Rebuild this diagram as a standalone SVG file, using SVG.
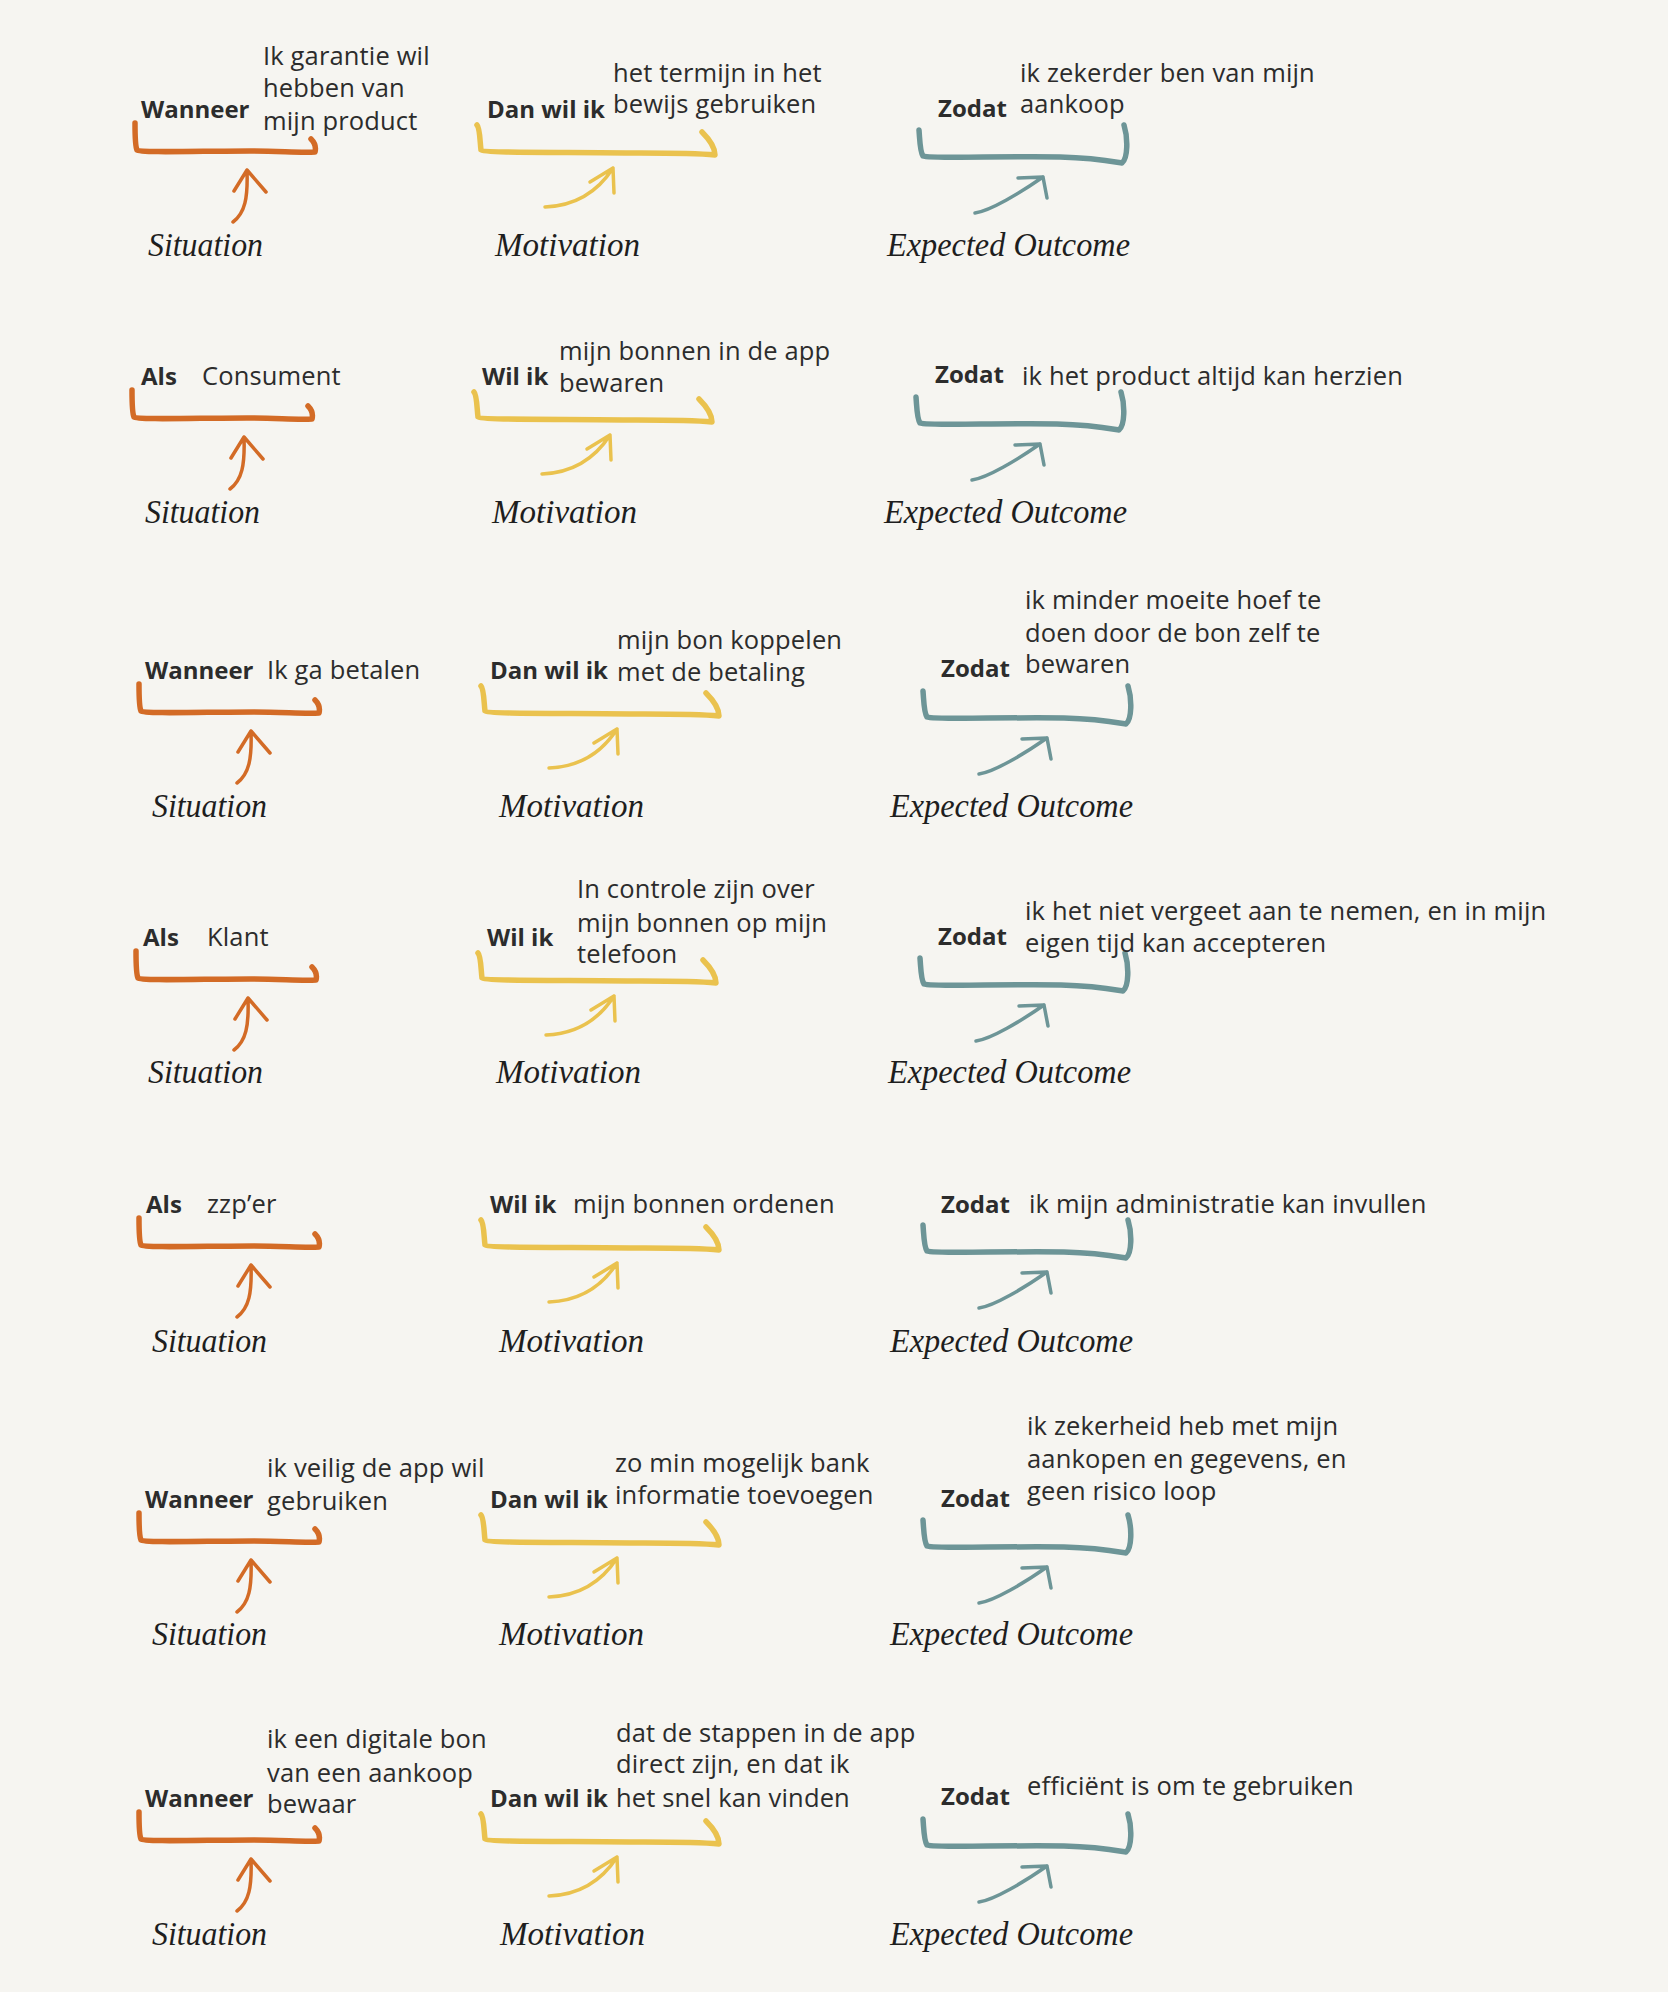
<svg xmlns="http://www.w3.org/2000/svg" xmlns:xlink="http://www.w3.org/1999/xlink" width="1668" height="1992" viewBox="0 0 1668 1992">
<style>
.lbl{font-family:"Open Sans","Noto Sans",sans-serif;font-weight:700;font-size:24px;fill:#2c2c2c}
.txt{font-family:"Open Sans","Noto Sans",sans-serif;font-size:25.5px;letter-spacing:0.15px;fill:#2c2c2c}
.hw{font-family:"Liberation Serif",serif;font-style:italic;font-size:34px;fill:#1e1e1e}
.br{fill:none;stroke-width:5.5;stroke-linecap:round;stroke-linejoin:round}
.ar{fill:none;stroke-width:3.5;stroke-linecap:round;stroke-linejoin:round}
.o{stroke:#d36b26}
.y{stroke:#eac24e}
.t{stroke:#6d9597}
</style>
<defs>
<path id="brO" d="M135,5 C135,17 135,28 137,32 C140,35 200,33 250,33 C280,33 300,35 315,34 C316,30 315,25 311,21"/>
<path id="brY" d="M477,7 C480,10 480,25 481,32 C483,35 560,34 640,35 C680,35 705,36 715,37 C715,30 710,22 702,14"/>
<path id="brT" d="M919,12 C920,25 920,34 923,38 C930,41 1000,38 1060,39 C1095,40 1110,43 1122,45 C1128,40 1128,20 1124,7"/>
<path id="arO" d="M233,104 C245,95 248,80 247,52 M234,73 L247,52 L266,74"/>
<path id="arY" d="M545,89 C570,88 595,78 613,50 M590,64 L613,50 L614,75"/>
<path id="arT" d="M975,95 C990,93 1020,75 1043,59 M1018,60 L1043,59 L1047,80"/>
</defs>
<rect width="1668" height="1992" fill="#f6f5f1"/>

<g id="connectors">
<use xlink:href="#arO" class="ar o" x="0" y="118"/>
<use xlink:href="#arY" class="ar y" x="0" y="118"/>
<use xlink:href="#arT" class="ar t" x="0" y="118"/>
<use xlink:href="#arO" class="ar o" x="-3" y="385"/>
<use xlink:href="#arY" class="ar y" x="-3" y="385"/>
<use xlink:href="#arT" class="ar t" x="-3" y="385"/>
<use xlink:href="#arO" class="ar o" x="4" y="679"/>
<use xlink:href="#arY" class="ar y" x="4" y="679"/>
<use xlink:href="#arT" class="ar t" x="4" y="679"/>
<use xlink:href="#arO" class="ar o" x="1" y="946"/>
<use xlink:href="#arY" class="ar y" x="1" y="946"/>
<use xlink:href="#arT" class="ar t" x="1" y="946"/>
<use xlink:href="#arO" class="ar o" x="4" y="1213"/>
<use xlink:href="#arY" class="ar y" x="4" y="1213"/>
<use xlink:href="#arT" class="ar t" x="4" y="1213"/>
<use xlink:href="#arO" class="ar o" x="4" y="1508"/>
<use xlink:href="#arY" class="ar y" x="4" y="1508"/>
<use xlink:href="#arT" class="ar t" x="4" y="1508"/>
<use xlink:href="#arO" class="ar o" x="4" y="1807"/>
<use xlink:href="#arY" class="ar y" x="4" y="1807"/>
<use xlink:href="#arT" class="ar t" x="4" y="1807"/>
</g>

<!-- Row 1 -->
<g id="r1-situation">
<use xlink:href="#brO" class="br o" x="0" y="118"/>
<text class="lbl" x="141" y="118">Wanneer</text>
<text class="txt" x="263" y="65">Ik garantie wil</text>
<text class="txt" x="263" y="97">hebben van</text>
<text class="txt" x="263" y="130">mijn product</text>
<text class="hw" x="148" y="256" textLength="115" lengthAdjust="spacingAndGlyphs">Situation</text>
</g>
<g id="r1-motivation">
<use xlink:href="#brY" class="br y" x="0" y="118"/>
<text class="lbl" x="487" y="118">Dan wil ik</text>
<text class="txt" x="613" y="82">het termijn in het</text>
<text class="txt" x="613" y="113">bewijs gebruiken</text>
<text class="hw" x="495" y="256" textLength="145" lengthAdjust="spacingAndGlyphs">Motivation</text>
</g>
<g id="r1-outcome">
<use xlink:href="#brT" class="br t" x="0" y="118"/>
<text class="lbl" x="938" y="117">Zodat</text>
<text class="txt" x="1020" y="82">ik zekerder ben van mijn</text>
<text class="txt" x="1020" y="113">aankoop</text>
<text class="hw" x="887" y="256" textLength="243" lengthAdjust="spacingAndGlyphs">Expected Outcome</text>
</g>

<!-- Row 2 -->
<g id="r2-situation">
<use xlink:href="#brO" class="br o" x="-3" y="385"/>
<text class="lbl" x="141" y="385">Als</text>
<text class="txt" x="202" y="385">Consument</text>
<text class="hw" x="145" y="523" textLength="115" lengthAdjust="spacingAndGlyphs">Situation</text>
</g>
<g id="r2-motivation">
<use xlink:href="#brY" class="br y" x="-3" y="385"/>
<text class="lbl" x="482" y="385">Wil ik</text>
<text class="txt" x="559" y="360">mijn bonnen in de app</text>
<text class="txt" x="559" y="392">bewaren</text>
<text class="hw" x="492" y="523" textLength="145" lengthAdjust="spacingAndGlyphs">Motivation</text>
</g>
<g id="r2-outcome">
<use xlink:href="#brT" class="br t" x="-3" y="385"/>
<text class="lbl" x="935" y="383">Zodat</text>
<text class="txt" x="1022" y="385">ik het product altijd kan herzien</text>
<text class="hw" x="884" y="523" textLength="243" lengthAdjust="spacingAndGlyphs">Expected Outcome</text>
</g>

<!-- Row 3 -->
<g id="r3-situation">
<use xlink:href="#brO" class="br o" x="4" y="679"/>
<text class="lbl" x="145" y="679">Wanneer</text>
<text class="txt" x="267" y="679">Ik ga betalen</text>
<text class="hw" x="152" y="817" textLength="115" lengthAdjust="spacingAndGlyphs">Situation</text>
</g>
<g id="r3-motivation">
<use xlink:href="#brY" class="br y" x="4" y="679"/>
<text class="lbl" x="490" y="679">Dan wil ik</text>
<text class="txt" x="617" y="649">mijn bon koppelen</text>
<text class="txt" x="617" y="681">met de betaling</text>
<text class="hw" x="499" y="817" textLength="145" lengthAdjust="spacingAndGlyphs">Motivation</text>
</g>
<g id="r3-outcome">
<use xlink:href="#brT" class="br t" x="4" y="679"/>
<text class="lbl" x="941" y="677">Zodat</text>
<text class="txt" x="1025" y="609">ik minder moeite hoef te</text>
<text class="txt" x="1025" y="642">doen door de bon zelf te</text>
<text class="txt" x="1025" y="673">bewaren</text>
<text class="hw" x="890" y="817" textLength="243" lengthAdjust="spacingAndGlyphs">Expected Outcome</text>
</g>

<!-- Row 4 -->
<g id="r4-situation">
<use xlink:href="#brO" class="br o" x="1" y="946"/>
<text class="lbl" x="143" y="946">Als</text>
<text class="txt" x="207" y="946">Klant</text>
<text class="hw" x="148" y="1083" textLength="115" lengthAdjust="spacingAndGlyphs">Situation</text>
</g>
<g id="r4-motivation">
<use xlink:href="#brY" class="br y" x="1" y="946"/>
<text class="lbl" x="487" y="946">Wil ik</text>
<text class="txt" x="577" y="898">In controle zijn over</text>
<text class="txt" x="577" y="932">mijn bonnen op mijn</text>
<text class="txt" x="577" y="963">telefoon</text>
<text class="hw" x="496" y="1083" textLength="145" lengthAdjust="spacingAndGlyphs">Motivation</text>
</g>
<g id="r4-outcome">
<use xlink:href="#brT" class="br t" x="1" y="946"/>
<text class="lbl" x="938" y="945">Zodat</text>
<text class="txt" x="1025" y="920">ik het niet vergeet aan te nemen, en in mijn</text>
<text class="txt" x="1025" y="952">eigen tijd kan accepteren</text>
<text class="hw" x="888" y="1083" textLength="243" lengthAdjust="spacingAndGlyphs">Expected Outcome</text>
</g>

<!-- Row 5 -->
<g id="r5-situation">
<use xlink:href="#brO" class="br o" x="4" y="1213"/>
<text class="lbl" x="146" y="1213">Als</text>
<text class="txt" x="207" y="1213">zzp’er</text>
<text class="hw" x="152" y="1352" textLength="115" lengthAdjust="spacingAndGlyphs">Situation</text>
</g>
<g id="r5-motivation">
<use xlink:href="#brY" class="br y" x="4" y="1213"/>
<text class="lbl" x="490" y="1213">Wil ik</text>
<text class="txt" x="573" y="1213">mijn bonnen ordenen</text>
<text class="hw" x="499" y="1352" textLength="145" lengthAdjust="spacingAndGlyphs">Motivation</text>
</g>
<g id="r5-outcome">
<use xlink:href="#brT" class="br t" x="4" y="1213"/>
<text class="lbl" x="941" y="1213">Zodat</text>
<text class="txt" x="1029" y="1213">ik mijn administratie kan invullen</text>
<text class="hw" x="890" y="1352" textLength="243" lengthAdjust="spacingAndGlyphs">Expected Outcome</text>
</g>

<!-- Row 6 -->
<g id="r6-situation">
<use xlink:href="#brO" class="br o" x="4" y="1508"/>
<text class="lbl" x="145" y="1508">Wanneer</text>
<text class="txt" x="267" y="1477">ik veilig de app wil</text>
<text class="txt" x="267" y="1510">gebruiken</text>
<text class="hw" x="152" y="1645" textLength="115" lengthAdjust="spacingAndGlyphs">Situation</text>
</g>
<g id="r6-motivation">
<use xlink:href="#brY" class="br y" x="4" y="1508"/>
<text class="lbl" x="490" y="1508">Dan wil ik</text>
<text class="txt" x="615" y="1472">zo min mogelijk bank</text>
<text class="txt" x="615" y="1504">informatie toevoegen</text>
<text class="hw" x="499" y="1645" textLength="145" lengthAdjust="spacingAndGlyphs">Motivation</text>
</g>
<g id="r6-outcome">
<use xlink:href="#brT" class="br t" x="4" y="1508"/>
<text class="lbl" x="941" y="1507">Zodat</text>
<text class="txt" x="1027" y="1435">ik zekerheid heb met mijn</text>
<text class="txt" x="1027" y="1468">aankopen en gegevens, en</text>
<text class="txt" x="1027" y="1500">geen risico loop</text>
<text class="hw" x="890" y="1645" textLength="243" lengthAdjust="spacingAndGlyphs">Expected Outcome</text>
</g>

<!-- Row 7 -->
<g id="r7-situation">
<use xlink:href="#brO" class="br o" x="4" y="1807"/>
<text class="lbl" x="145" y="1807">Wanneer</text>
<text class="txt" x="267" y="1748">ik een digitale bon</text>
<text class="txt" x="267" y="1782">van een aankoop</text>
<text class="txt" x="267" y="1813">bewaar</text>
<text class="hw" x="152" y="1945" textLength="115" lengthAdjust="spacingAndGlyphs">Situation</text>
</g>
<g id="r7-motivation">
<use xlink:href="#brY" class="br y" x="4" y="1807"/>
<text class="lbl" x="490" y="1807">Dan wil ik</text>
<text class="txt" x="616" y="1742">dat de stappen in de app</text>
<text class="txt" x="616" y="1773">direct zijn, en dat ik</text>
<text class="txt" x="616" y="1807">het snel kan vinden</text>
<text class="hw" x="500" y="1945" textLength="145" lengthAdjust="spacingAndGlyphs">Motivation</text>
</g>
<g id="r7-outcome">
<use xlink:href="#brT" class="br t" x="4" y="1807"/>
<text class="lbl" x="941" y="1805">Zodat</text>
<text class="txt" x="1027" y="1795">efficiënt is om te gebruiken</text>
<text class="hw" x="890" y="1945" textLength="243" lengthAdjust="spacingAndGlyphs">Expected Outcome</text>
</g>
</svg>
